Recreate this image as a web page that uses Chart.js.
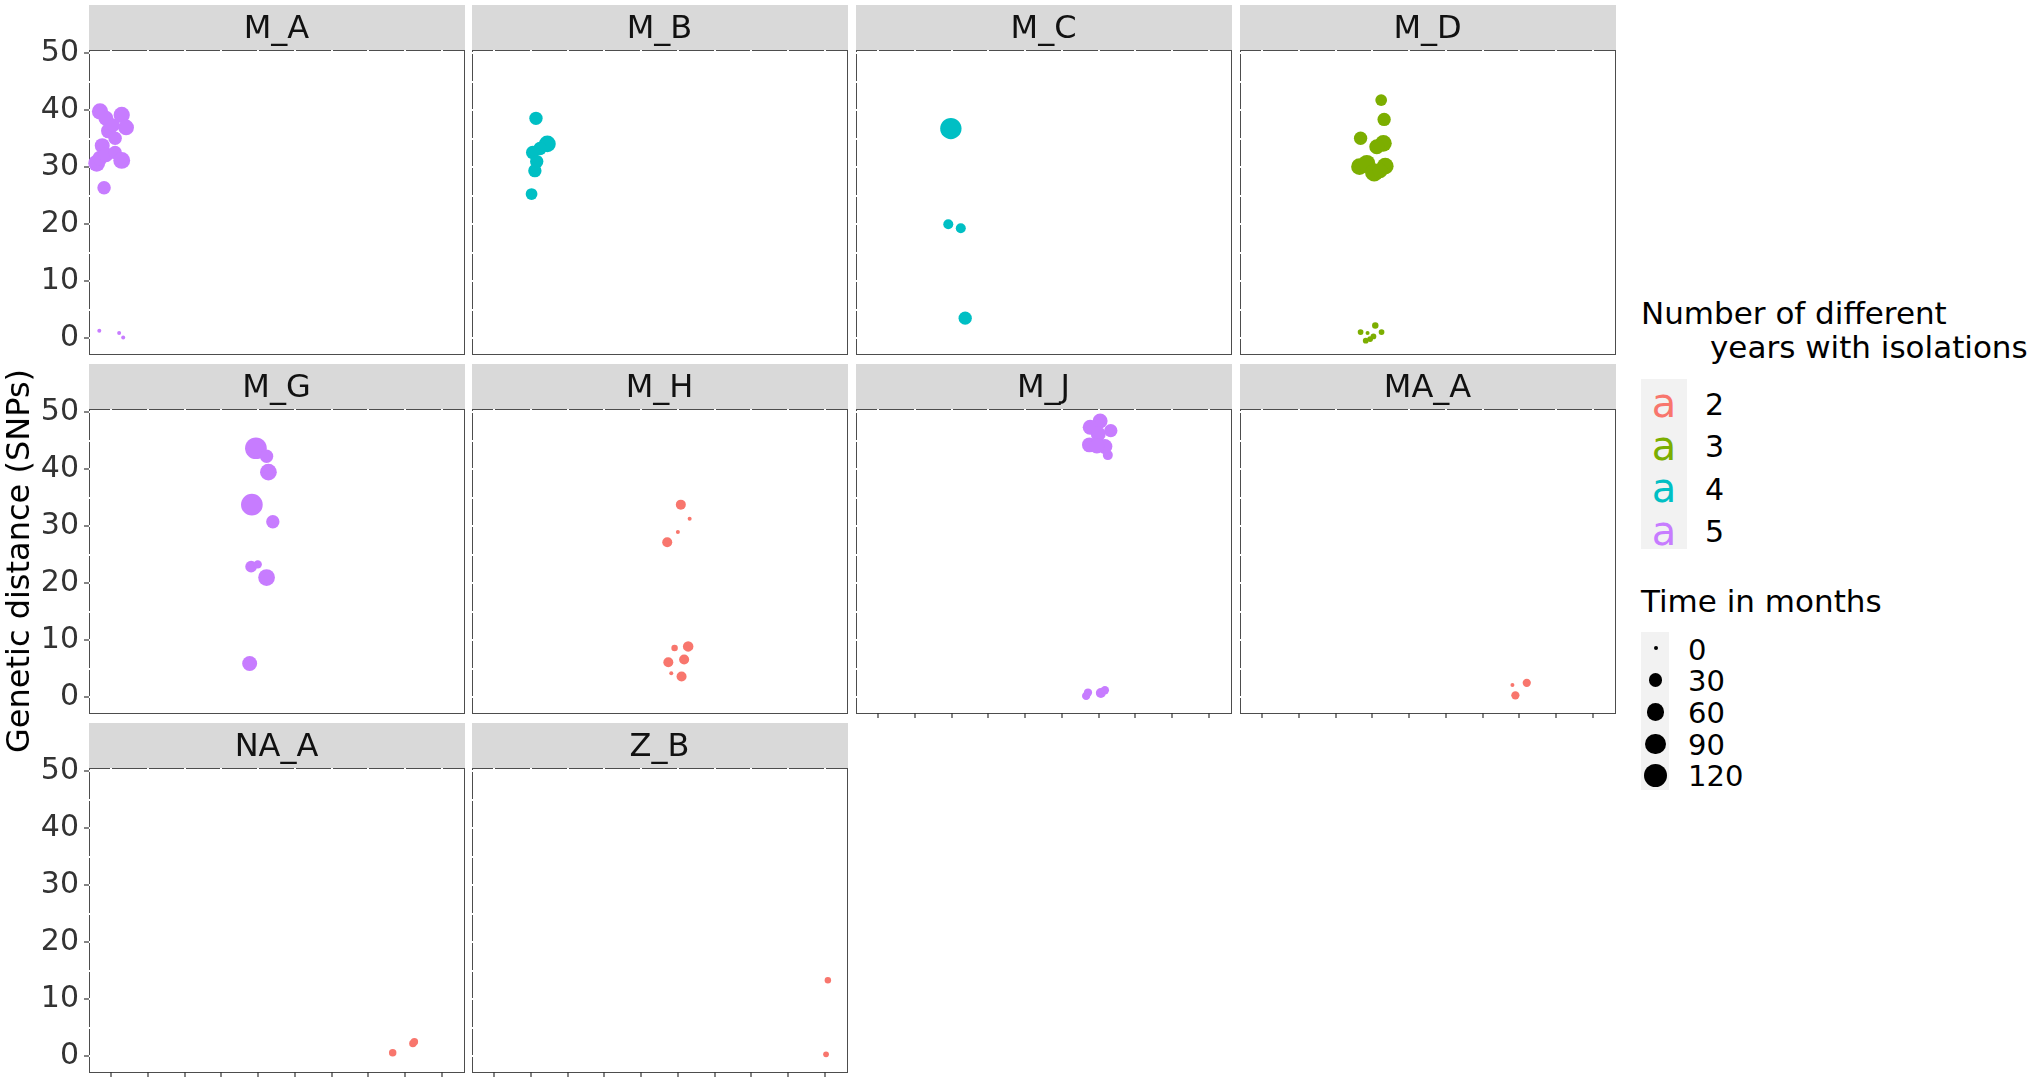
<!DOCTYPE html>
<html>
<head>
<meta charset="utf-8">
<script src="https://cdn.jsdelivr.net/npm/chart.js@4.4.1/dist/chart.umd.min.js"></script>
<style>
html,body{margin:0;padding:0;background:#fff;width:2032px;height:1082px;overflow:hidden;}
canvas{position:absolute;}
.txt{position:absolute;white-space:nowrap;font-family:'DejaVu Sans','Liberation Sans',Arial,sans-serif;color:#000;}
</style>
</head>
<body>
<script>
// ---------------- DATA ----------------
const PANELS = ['M_A','M_B','M_C','M_D','M_G','M_H','M_J','MA_A','NA_A','Z_B'];
const PANEL_YEARS = [5,4,4,3,5,2,5,2,2,2];          // number of different years with isolations
const X_TICKS = [1,2,3,4,5,6,7,8,9,10];
const Y_TICKS = [0,5,10,15,20,25,30,35,40,45,50];
const Y_TICK_LABELS = ['0','','10','','20','','30','','40','','50'];
const YEAR_LEVELS = ['2','3','4','5'];
const MONTH_BREAKS = [0,30,60,90,120];

// per panel: x (jittered category position), y (genetic distance, SNPs), t (time in months)
const X_M_A = [0.70,0.86,0.93,1.11,1.29,1.41,1.06,0.76,0.61,0.70,0.86,1.11,1.29,0.81,0.68,1.22,1.33];
const Y_M_A = [39.8,38.6,36.4,35.1,39.2,37.0,37.4,33.8,30.7,31.6,32.2,32.6,31.2,26.4,1.3,0.9,0.1];
const T_M_A = [50,40,40,30,50,45,30,40,55,40,40,30,55,30,0,0,0];

const X_M_B = [2.14,2.45,2.25,2.05,2.16,2.11,2.02];
const Y_M_B = [38.6,34.1,33.3,32.6,31.0,29.4,25.3];
const T_M_B = [29,54,29,29,29,29,20];

const X_M_C = [2.98,2.91,3.25,3.37];
const Y_M_C = [36.8,20.0,19.3,3.5];
const T_M_C = [100,12,12,29];

const X_M_D = [4.24,4.32,3.68,4.30,4.12,3.65,3.85,4.05,4.35,4.21,3.68,3.82,3.87,4.08,4.03,4.25,3.94];
const Y_M_D = [41.8,38.4,35.1,34.2,33.6,30.1,30.7,29.1,30.2,29.4,1.05,-0.47,0.88,2.2,0.28,1.05,-0.18];
const T_M_D = [20,29,29,54,40,54,54,68,54,40,1,1,0,2,1,1,1];

const X_M_G = [4.94,5.23,5.28,4.83,5.40,4.81,4.99,5.23,4.77];
const Y_M_G = [43.7,42.3,39.5,33.8,30.8,22.9,23.3,21.0,5.9];
const T_M_G = [104,29,54,104,29,20,6,54,40];

const X_M_H = [6.08,6.32,6.00,5.71,5.91,6.28,6.17,5.74,5.82,6.10];
const Y_M_H = [33.8,31.3,29.0,27.2,8.6,8.9,6.6,6.1,4.2,3.6];
const T_M_H = [12,0,0,12,2,14,12,12,0,12];

const X_M_J = [7.04,6.77,7.33,6.99,6.75,7.17,6.95,7.25,6.66,6.71,7.06,7.17];
const Y_M_J = [48.5,47.4,46.8,46.2,44.3,44.0,44.1,42.5,0.2,0.8,0.7,1.2];
const T_M_J = [40,40,29,40,40,40,40,12,6,6,12,6];

const X_MA_A = [8.20,7.81,7.89];
const Y_MA_A = [2.5,2.1,0.3];
const T_MA_A = [6,0,6];

const X_NA_A = [8.66,9.21,9.25];
const Y_NA_A = [0.6,2.2,2.5];
const T_NA_A = [4,4,4];

const X_Z_B = [10.08,10.03];
const Y_Z_B = [13.3,0.3];
const T_Z_B = [2,1];

const SERIES = [
  [X_M_A,Y_M_A,T_M_A],[X_M_B,Y_M_B,T_M_B],[X_M_C,Y_M_C,T_M_C],[X_M_D,Y_M_D,T_M_D],
  [X_M_G,Y_M_G,T_M_G],[X_M_H,Y_M_H,T_M_H],[X_M_J,Y_M_J,T_M_J],[X_MA_A,Y_MA_A,T_MA_A],
  [X_NA_A,Y_NA_A,T_NA_A],[X_Z_B,Y_Z_B,T_Z_B]
];

// ---------------- STYLE / LAYOUT ----------------
const COLORS = {'2':'#F8766D','3':'#7CAE00','4':'#00BFC4','5':'#C77CFF'};
const FONT = "'DejaVu Sans','Liberation Sans',Arial,sans-serif";
const COL_LEFT = [89,472,856,1240];
const ROW_TOP = [50,409,768];
const PANEL_W = 375, PANEL_H = 304, STRIP_H = 45;

function sizeToRadius(t){ return (4 + 19*Math.sqrt(Math.max(t,0)/120))/2; }
function noPad(sc){ sc.paddingTop = 0; sc.paddingBottom = 0; sc.paddingLeft = 0; sc.paddingRight = 0; }

const facetFrame = {
  id:'facetFrame',
  beforeDraw(chart){
    const ctx = chart.ctx, a = chart.chartArea, tb = chart.titleBlock;
    ctx.save();
    ctx.fillStyle = '#fff';
    ctx.fillRect(0,0,chart.width,chart.height);
    ctx.fillStyle = '#D9D9D9';
    ctx.fillRect(a.left, tb.top, a.right - a.left + 1, tb.height);
    ctx.strokeStyle = '#4d4d4d';
    ctx.lineWidth = 1;
    ctx.strokeRect(a.left + 0.5, a.top + 0.5, a.right - a.left, a.bottom - a.top);
    ctx.restore();
  }
};

PANELS.forEach((name, i) => {
  const row = Math.floor(i/4), col = i % 4;
  const showY = col === 0;
  const showX = i + 4 >= PANELS.length;
  const padL = showY ? COL_LEFT[0] : 2;
  const padB = showX ? 8 : 3;
  const padR = 3;
  const W = padL + PANEL_W + padR, H = STRIP_H + PANEL_H + padB;
  const cv = document.createElement('canvas');
  cv.width = W; cv.height = H;
  cv.style.width = W + 'px'; cv.style.height = H + 'px';
  cv.style.left = (COL_LEFT[col] - padL) + 'px';
  cv.style.top = (ROW_TOP[row] - STRIP_H) + 'px';
  document.body.appendChild(cv);
  const [xs, ys, ts] = SERIES[i];
  new Chart(cv, {
    type: 'scatter',
    data: { datasets: [{
      data: xs.map((x, k) => ({ x: x, y: ys[k] })),
      pointRadius: ts.map(sizeToRadius),
      pointHoverRadius: ts.map(sizeToRadius),
      backgroundColor: COLORS[PANEL_YEARS[i]],
      borderWidth: 0,
      clip: false
    }]},
    options: {
      responsive: false, animation: false, devicePixelRatio: 1, events: [],
      layout: { autoPadding: false, padding: { left: 0, top: 0, right: padR, bottom: 0 } },
      plugins: {
        legend: { display: false }, tooltip: { enabled: false },
        title: { display: true, text: name, fullSize: false, color: '#111',
                 font: { family: FONT, size: 32, weight: 'normal', lineHeight: '39px' },
                 padding: { top: 5, bottom: 1 } }
      },
      scales: {
        x: { type: 'linear', min: 0.4, max: 10.6,
             afterBuildTicks: sc => { sc.ticks = X_TICKS.map(v => ({ value: v })); },
             afterFit: sc => { sc.height = padB; noPad(sc); },
             ticks: { display: false },
             border: { display: false },
             grid: { color: '#ffffff', lineWidth: 2, drawTicks: showX, tickLength: 5, tickColor: '#333', tickWidth: 1.2 } },
        y: { type: 'linear', min: -2.8, max: 50.6,
             afterBuildTicks: sc => { sc.ticks = Y_TICKS.map(v => ({ value: v })); },
             afterFit: sc => { sc.width = padL; noPad(sc); },
             ticks: { display: showY, autoSkip: false, padding: 5, color: '#333',
                      font: { family: FONT, size: 30 },
                      callback: (v, idx) => Y_TICK_LABELS[idx] },
             border: { display: false },
             grid: { color: '#ffffff', lineWidth: 2, drawTicks: showY, tickLength: 5,
                     tickColor: c => Y_TICK_LABELS[c.index] ? '#333' : 'rgba(0,0,0,0)', tickWidth: 1.2 } }
      }
    },
    plugins: [facetFrame]
  });
});

// ---------------- AXIS TITLE & LEGENDS (text) ----------------
function addText(txt, left, top, size, extra){
  const d = document.createElement('div');
  d.className = 'txt';
  d.textContent = txt;
  d.style.left = left + 'px'; d.style.top = top + 'px';
  d.style.fontSize = size + 'px'; d.style.lineHeight = size + 'px';
  if (extra) Object.assign(d.style, extra);
  document.body.appendChild(d);
  return d;
}
function addBox(left, top, w, h, bg, extra){
  const d = document.createElement('div');
  d.style.position = 'absolute';
  d.style.left = left + 'px'; d.style.top = top + 'px';
  d.style.width = w + 'px'; d.style.height = h + 'px';
  d.style.background = bg;
  if (extra) Object.assign(d.style, extra);
  document.body.appendChild(d);
  return d;
}

// y axis title
const yt = document.createElement('div');
yt.style.position = 'absolute'; yt.style.left = '18px'; yt.style.top = '561px';
yt.style.width = '0'; yt.style.height = '0';
const ytInner = document.createElement('div');
ytInner.className = 'txt';
ytInner.textContent = 'Genetic distance (SNPs)';
ytInner.style.fontSize = '32px'; ytInner.style.lineHeight = '32px';
ytInner.style.left = '0'; ytInner.style.top = '0';
ytInner.style.transform = 'translate(-50%,-50%) rotate(-90deg)';
yt.appendChild(ytInner);
document.body.appendChild(yt);

// colour legend
addText('Number of different', 1641, 298, 31);
addText('years with isolations', 1710, 332, 31);
addBox(1641, 379, 46, 170, '#F2F2F2');
YEAR_LEVELS.forEach((lv, k) => {
  addText('a', 1641, 383 + 42.5*k, 40, { width: '46px', textAlign: 'center', color: COLORS[lv] });
  addText(lv, 1705, 389.5 + 42.5*k, 30);
});

// size legend
addText('Time in months', 1641, 585.5, 31);
addBox(1641, 632, 28, 158, '#F2F2F2');
MONTH_BREAKS.forEach((m, k) => {
  const r = sizeToRadius(m);
  const cy = 648.3 + 31.85*k;
  addBox(1655.5 - r, cy - r, 2*r, 2*r, '#000', { borderRadius: '50%' });
  addText(String(m), 1688, 635.5 + 31.7*k, 29);
});
</script>
</body>
</html>
